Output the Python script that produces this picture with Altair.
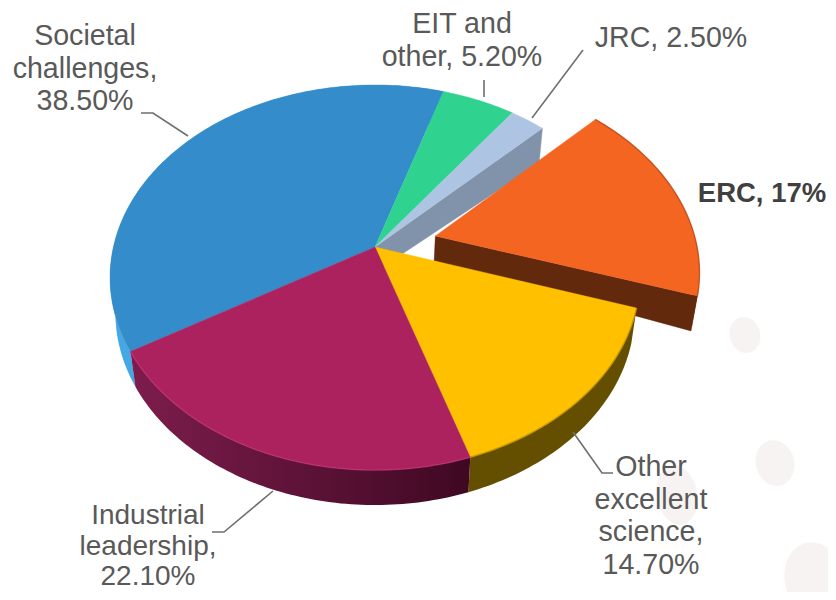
import math
import altair as alt
import pandas as pd

# --- chart values -------------------------------------------------------
names = ["EIT and other", "JRC", "ERC", "Other excellent science",
         "Industrial leadership", "Societal challenges"]
shares = [5.2, 2.5, 17.0, 14.7, 22.1, 38.5]
label_text = ["EIT and\nother, 5.20%", "JRC, 2.50%", "ERC, 17%",
              "Other\nexcellent\nscience,\n14.70%",
              "Industrial\nleadership,\n22.10%",
              "Societal\nchallenges,\n38.50%"]

# --- styles and layout --------------------------------------------------
top_colors = ["#2fd38f", "#adc5e2", "#f46522", "#ffc000", "#ab225e", "#348ccb"]
rim_colors = {2: "#b8481a", 3: "#b28c00", 4: "#c0306f"}
wall_stops = {2: ("#62290d", "#7a3210"), 3: ("#644f00", "#644f00"),
              4: ("#7d1d4d", "#3f0822"), 5: ("#45a7e4", "#45a7e4")}
face_colors = {1: "#8093aa", 2: "#62290d"}
label_x = [462, 671, 762, 651, 148, 85]
label_y = [10, 24, 180, 453, 502, 22]
label_lh = [32.5, 32.5, 32.5, 32.5, 30.5, 32.5]
label_fs = [28.6, 28.6, 27.5, 28.6, 28.0, 28.6]
label_bold = [False, False, True, False, False, False]
leaders = [
    [(484, 80), (484, 97)],
    [(532, 118), (583, 50)],
    [(613, 473), (602, 473), (573, 432)],
    [(212, 532), (224, 532), (273, 491)],
    [(141, 113), (153, 113), (188, 136)],
]
blobs = [(745, 335, 15, 18, -15), (775, 463, 19, 23, -15), (815, 580, 30, 38, -15),
         (677, 495, 20, 30, -10), (715, 604, 14, 12, 0)]

CX, CY, RX, RY, K = 375, 247, 261.6, 187.7, 0.1585
START = 17.5
EXPLODE = {2: 0.24}

X_SCALE = alt.Scale(domain=[8, 828])
Y_SCALE = alt.Scale(domain=[592, 8])


def project(u, v, low=False, du=0.0, dv=0.0):
    d = 1 + K * v
    x, y = CX + RX * u / d, CY - RY * v / d
    if low:
        r = math.hypot(u - du, v - dv)
        x = CX + (x - CX) * 0.98
        y += 25 + 10 * r
    return x, y


def warp(angle):
    # the picture's pie is slightly uneven at the lower right
    return angle + 2.7 * math.exp(-(((angle % 360) - 150) / 60) ** 2)


def rim(a0, a1, du, dv, low=False):
    n = max(4, int(abs(a1 - a0)))
    out = []
    for i in range(n + 1):
        t = math.radians(warp(a0 + (a1 - a0) * i / n))
        out.append(project(math.sin(t) + du, math.cos(t) + dv, low, du, dv))
    return out


def poly(points, fill):
    df = pd.DataFrame({"x": [p[0] for p in points], "y": [p[1] for p in points],
                       "i": list(range(len(points)))})
    plain = isinstance(fill, str)
    return alt.Chart(df).mark_line(interpolate="linear-closed", fill=fill, clip=True,
                                   strokeWidth=0.4, stroke=fill if plain else "#000000",
                                   strokeOpacity=1 if plain else 0).encode(
        x=alt.X("x:Q", scale=X_SCALE, axis=None),
        y=alt.Y("y:Q", scale=Y_SCALE, axis=None),
        order=alt.Order("i:Q"))


def path(points, color, width, opacity=1.0):
    df = pd.DataFrame({"x": [p[0] for p in points], "y": [p[1] for p in points],
                       "i": list(range(len(points)))})
    return alt.Chart(df).mark_line(color=color, strokeWidth=width, opacity=opacity).encode(
        x=alt.X("x:Q", scale=X_SCALE, axis=None),
        y=alt.Y("y:Q", scale=Y_SCALE, axis=None),
        order=alt.Order("i:Q"))


def gradient(c0, c1):
    return alt.LinearGradient(gradient="linear", x1=0, x2=1, y1=0, y2=0,
                              stops=[alt.GradientStop(offset=0, color=c0),
                                     alt.GradientStop(offset=1, color=c1)])


# slice angles, clockwise from the top of the disc
angles = []
a = START
for s in shares:
    angles.append((a, a + s * 3.6))
    a += s * 3.6

layers = []

for (bx, by, brx, bry, rot) in blobs:
    r = math.radians(rot)
    pts = []
    for deg in range(0, 360, 10):
        t = math.radians(deg)
        ex, ey = brx * math.cos(t), bry * math.sin(t)
        pts.append((bx + ex * math.cos(r) - ey * math.sin(r),
                    by + ex * math.sin(r) + ey * math.cos(r)))
    layers.append(poly(pts, "#f7f3f3"))


def offset(i):
    d = EXPLODE.get(i, 0.0)
    if not d:
        return 0.0, 0.0
    mid = math.radians(sum(angles[i]) / 2)
    return d * math.sin(mid), d * math.cos(mid)


def add_walls(i):
    a0, a1 = angles[i]
    du, dv = offset(i)
    top = rim(a0, a1, du, dv)
    low = rim(a0, a1, du, dv, True)
    c0, c1 = wall_stops[i]
    layers.append(poly(top + low[::-1], gradient(c0, c1)))


def add_face(i, angle):
    du, dv = offset(i)
    t = math.radians(warp(angle))
    u, v = math.sin(t) + du, math.cos(t) + dv
    layers.append(poly([project(du, dv), project(u, v),
                        project(u, v, True, du, dv), project(du, dv, True, du, dv)],
                       face_colors[i]))


def add_top(i):
    a0, a1 = angles[i]
    du, dv = offset(i)
    layers.append(poly([project(du, dv)] + rim(a0, a1, du, dv), top_colors[i]))


# back to front
add_face(1, angles[1][1])
add_walls(2)
add_face(2, angles[2][1])
add_top(2)
add_walls(5)
add_walls(3)
add_walls(4)
for i in (5, 0, 1, 3, 4):
    add_top(i)
for i, c in rim_colors.items():
    a0, a1 = angles[i]
    du, dv = offset(i)
    layers.append(path(rim(a0, a1, du, dv), c, 1.5, 0.7))

for pts in leaders:
    layers.append(path(pts, "#6f6f6f", 1.6))

for i, txt in enumerate(label_text):
    df = pd.DataFrame({"x": [label_x[i]], "y": [label_y[i]], "t": [txt]})
    layers.append(alt.Chart(df).mark_text(
        font="Liberation Sans", fontSize=label_fs[i], lineBreak="\n", lineHeight=label_lh[i],
        align="center", baseline="top",
        fontWeight="bold" if label_bold[i] else "normal",
        color="#404040" if label_bold[i] else "#595959").encode(
        x=alt.X("x:Q", scale=X_SCALE, axis=None),
        y=alt.Y("y:Q", scale=Y_SCALE, axis=None),
        text="t:N"))

chart = alt.layer(*layers).properties(
    width=820, height=584, padding=0, background="white",
    autosize=alt.AutoSizeParams(type="none")
).configure_view(stroke=None)

chart.save("out.html", embed_options={"renderer": "svg", "actions": False})
